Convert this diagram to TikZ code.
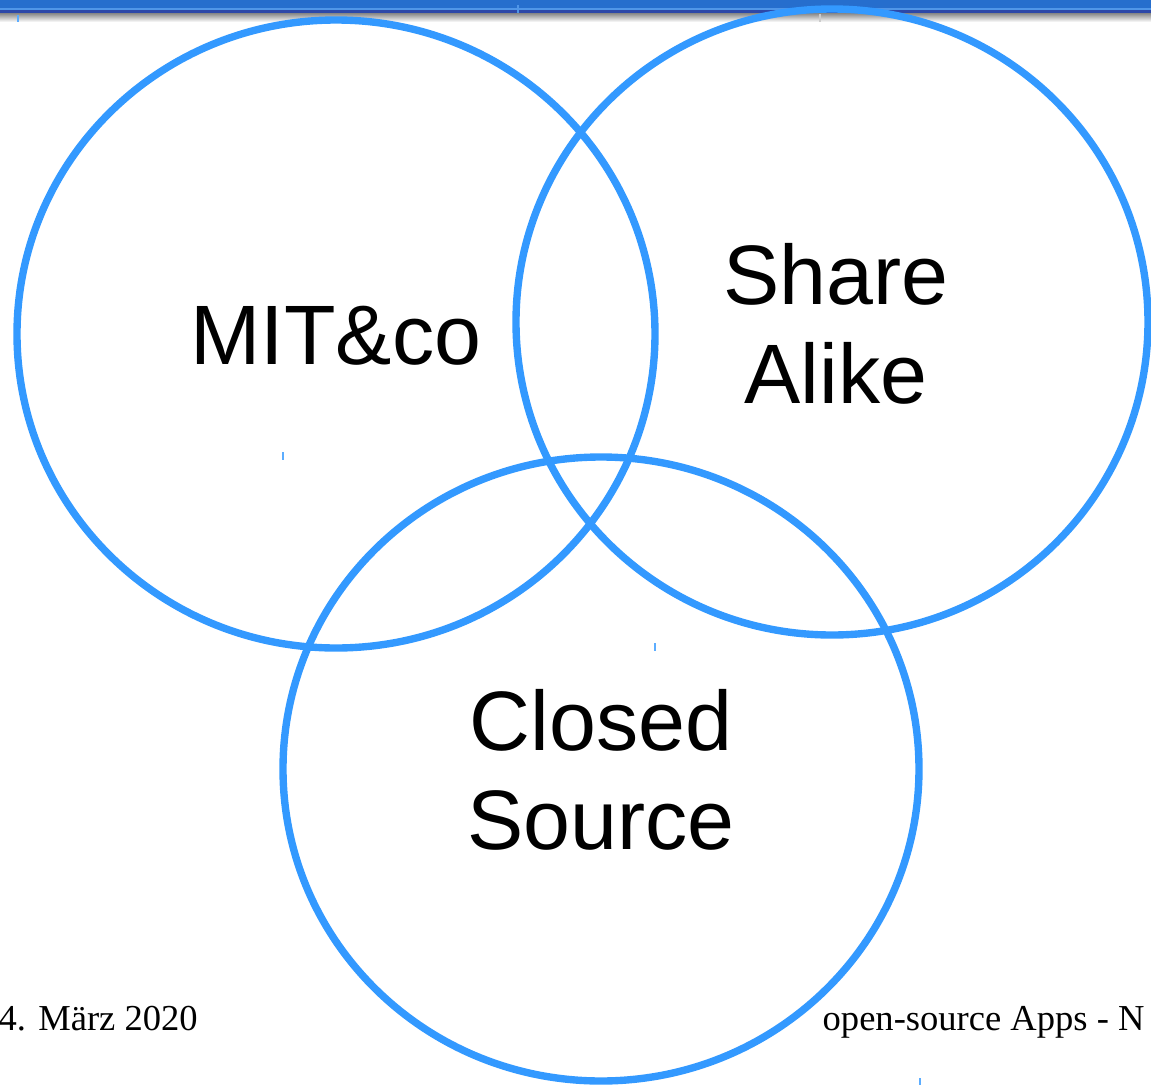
\documentclass[tikz,border=0pt]{standalone}
\usepackage{fontspec}
\setmainfont{Liberation Serif}
\newfontfamily\labelfont{Liberation Sans}
\usetikzlibrary{calc}
\definecolor{ringblue}{RGB}{51,153,255}
\definecolor{barblue}{RGB}{38,110,205}
\definecolor{barlight}{RGB}{80,150,232}
\definecolor{bardark}{RGB}{45,72,168}
\tikzset{
	ring/.style={draw=ringblue, line width=2.1pt},
	setlabel/.style={font=\labelfont\fontsize{24}{28}\selectfont, align=center, inner sep=0pt},
	footer/.style={font=\fontsize{10.4}{12}\selectfont, inner sep=0pt},
	tick/.style={draw=ringblue!80, line width=0.5pt}
}

\begin{document}
\begin{tikzpicture}
			%%%%% START %%%%%
			\useasboundingbox (0, 0) rectangle (11.51, -10.85);
			\clip (0, 0) rectangle (11.51, -10.85);
			
			% title bar
			\fill[barblue] (0, 0) rectangle (11.51, -0.075);
			\fill[barlight] (0, -0.075) rectangle (11.51, -0.10);
			\fill[bardark] (0, -0.10) rectangle (11.51, -0.135);
			\shade[top color=black!45, bottom color=white] (0, -0.135) rectangle (11.51, -0.22);
			
			% the three sets
			\draw[ring] (3.36, -3.34) ellipse (3.19 and 3.14);
			\draw[ring] (8.32, -3.22) ellipse (3.16 and 3.13);
			\draw[ring] (6.01, -7.69) ellipse (3.18 and 3.12);
			
			\node[setlabel] (mit) at (3.36, -3.36) {MIT\&co};
			\node[setlabel] (sharealike) at (8.36, -3.24) {Share\\Alike};
			\node[setlabel] (closedsource) at (6.01, -7.70) {Closed\\Source};
			
			% small marks
			\draw[tick] (0.18, -0.15) -- (0.18, -0.22);
			\draw[tick] (2.83, -4.52) -- (2.83, -4.60);
			\draw[tick] (6.55, -6.43) -- (6.55, -6.51);
			\draw[tick] (9.20, -10.78) -- (9.20, -10.85);
			\draw[draw=barlight, line width=0.5pt] (5.18, -0.05) -- (5.18, -0.13);
			\draw[draw=black!20, line width=0.4pt] (8.20, -0.14) -- (8.20, -0.22);
			
			% footer
			\node[footer, anchor=base west] (date) at (-0.02, -10.30) {4. März 2020};
			\node[footer, anchor=base west] (title) at (8.22, -10.30) {open-source Apps - N};
			%%%%% END %%%%%
		\end{tikzpicture}
\end{document}
